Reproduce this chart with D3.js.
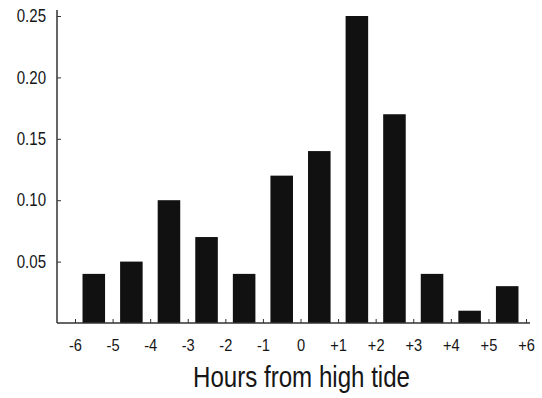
<!DOCTYPE html>
<html>
<head>
<meta charset="utf-8">
<script src="https://cdn.jsdelivr.net/npm/d3@7"></script>
<style>
  html, body { margin: 0; padding: 0; background: #fff; }
  text { font-family: "Liberation Sans", Arial, sans-serif; fill: #161616; }
</style>
</head>
<body>
<svg id="chart" width="542" height="398"></svg>
<script>
// Proportion of observations in each hourly interval relative to high tide
const tickHours = ["-6", "-5", "-4", "-3", "-2", "-1", "0", "+1", "+2", "+3", "+4", "+5", "+6"];
const binValues = [0.04, 0.05, 0.10, 0.07, 0.04, 0.12, 0.14, 0.25, 0.17, 0.04, 0.01, 0.03];
const yTicks = [0.05, 0.10, 0.15, 0.20, 0.25];
const xTitle = "Hours from high tide";

const svg = d3.select("#chart");

const x = d3.scaleLinear().domain([-6, 6]).range([75, 526]);
const y = d3.scaleLinear().domain([0, 0.25]).range([323, 16]);
const axisLeftX = 57;
const barFrac = 0.6;
const narrow = 0.86; // horizontal squeeze for a condensed look

function condense(sel) {
  sel.each(function () {
    const w = this.getComputedTextLength();
    d3.select(this).attr("textLength", w * narrow).attr("lengthAdjust", "spacingAndGlyphs");
  });
}

// Bars sit between consecutive hour ticks
const bins = binValues.map((v, i) => ({ start: -6 + i, value: v }));
const step = x(1) - x(0);
svg.append("g")
  .selectAll("rect")
  .data(bins)
  .join("rect")
  .attr("x", d => x(d.start + 0.5) - step * barFrac / 2)
  .attr("width", step * barFrac)
  .attr("y", d => y(d.value))
  .attr("height", d => y(0) - y(d.value))
  .attr("fill", "#111");

// Y axis with inward ticks
const yAxis = d3.axisLeft(y)
  .tickValues(yTicks)
  .tickFormat(d3.format(".2f"))
  .tickSizeInner(-4)
  .tickSizeOuter(0)
  .tickPadding(11);
const gy = svg.append("g").attr("transform", `translate(${axisLeftX},0)`).call(yAxis);
gy.select(".domain").remove();
gy.selectAll("line").attr("stroke", "#333");
gy.selectAll("text")
  .style("font-size", "17.5px")
  .attr("font-family", "Liberation Sans, Arial, sans-serif")
  .attr("fill", "#161616")
  .call(condense);
gy.append("line")
  .attr("x1", 0).attr("x2", 0)
  .attr("y1", 10).attr("y2", y(0))
  .attr("stroke", "#333").attr("stroke-width", 1.5);

// X axis with upward ticks at each hour
const xAxis = d3.axisBottom(x)
  .tickValues(d3.range(-6, 7))
  .tickFormat((d, i) => tickHours[i])
  .tickSizeInner(-4)
  .tickSizeOuter(0)
  .tickPadding(16);
const gx = svg.append("g").attr("transform", `translate(0,${y(0)})`).call(xAxis);
gx.select(".domain").remove();
gx.selectAll("line").attr("stroke", "#333");
gx.selectAll("text")
  .style("font-size", "17px")
  .attr("font-family", "Liberation Sans, Arial, sans-serif")
  .attr("fill", "#161616")
  .call(condense);
gx.append("line")
  .attr("x1", axisLeftX).attr("x2", 530)
  .attr("y1", 0).attr("y2", 0)
  .attr("stroke", "#333").attr("stroke-width", 1.5);

// Axis title
svg.append("text")
  .attr("x", 301.5)
  .attr("y", 387)
  .attr("text-anchor", "middle")
  .style("font-size", "29px")
  .text(xTitle)
  .call(sel => sel.attr("textLength", 217).attr("lengthAdjust", "spacingAndGlyphs"));
</script>
</body>
</html>
